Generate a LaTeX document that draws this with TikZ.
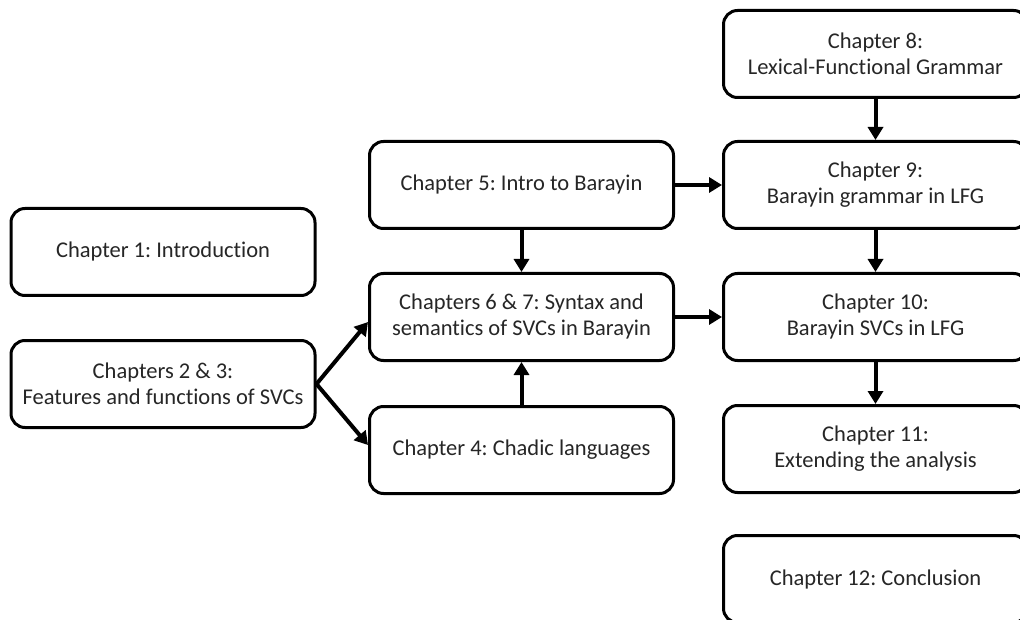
\documentclass[tikz,border=0pt]{standalone}
\usepackage{fontspec}
\setmainfont{Carlito}[Ligatures=NoCommon]
\frenchspacing
\usetikzlibrary{arrows.meta}
\begin{document}
\begin{tikzpicture}[x=1pt,y=-1pt,
  chapbox/.style={draw, line width=3pt, rounded corners=14pt,
    minimum width=304pt, minimum height=87pt, align=center,
    inner sep=0pt, text=black!85, font=\fontsize{22.5}{26}\selectfont},
  link/.style={line width=4pt, -{Triangle[length=13pt,width=15pt]}}]
\clip (0,0) rectangle (1020,620);
\fill[white] (0,0) rectangle (1020,620);

% left column
\node[chapbox] (ch1)  at (163,252) {Chapter 1: Introduction};
\node[chapbox] (ch23) at (163,384) {Chapters 2 \& 3:\\Features and functions of SVCs};

% middle column
\node[chapbox] (ch5)  at (521.5,185) {Chapter 5: Intro to Barayin};
\node[chapbox] (ch67) at (521.5,317) {Chapters 6 \& 7: Syntax and\\semantics of SVCs in Barayin};
\node[chapbox] (ch4)  at (521.5,450) {Chapter 4: Chadic languages};

% right column
\node[chapbox] (ch8)  at (875.5,54)  {Chapter 8:\\Lexical-Functional Grammar};
\node[chapbox] (ch9)  at (875.5,185) {Chapter 9:\\Barayin grammar in LFG};
\node[chapbox] (ch10) at (875.5,317) {Chapter 10:\\Barayin SVCs in LFG};
\node[chapbox] (ch11) at (875.5,449) {Chapter 11:\\Extending the analysis};
\node[chapbox] (ch12) at (875.5,579) {Chapter 12: Conclusion};

% connectors
\draw[link] (ch23.east) -- ([yshift=-5pt]ch67.west);
\draw[link] (ch23.east) -- ([yshift=5pt]ch4.west);
\draw[link] (ch5.south) -- (ch67.north);
\draw[link] (ch4.north) -- (ch67.south);
\draw[link] (ch5.east) -- (ch9.west);
\draw[link] (ch67.east) -- (ch10.west);
\draw[link] (ch8.south) -- (ch9.north);
\draw[link] (ch9.south) -- (ch10.north);
\draw[link] (ch10.south) -- (ch11.north);
\end{tikzpicture}
\end{document}
